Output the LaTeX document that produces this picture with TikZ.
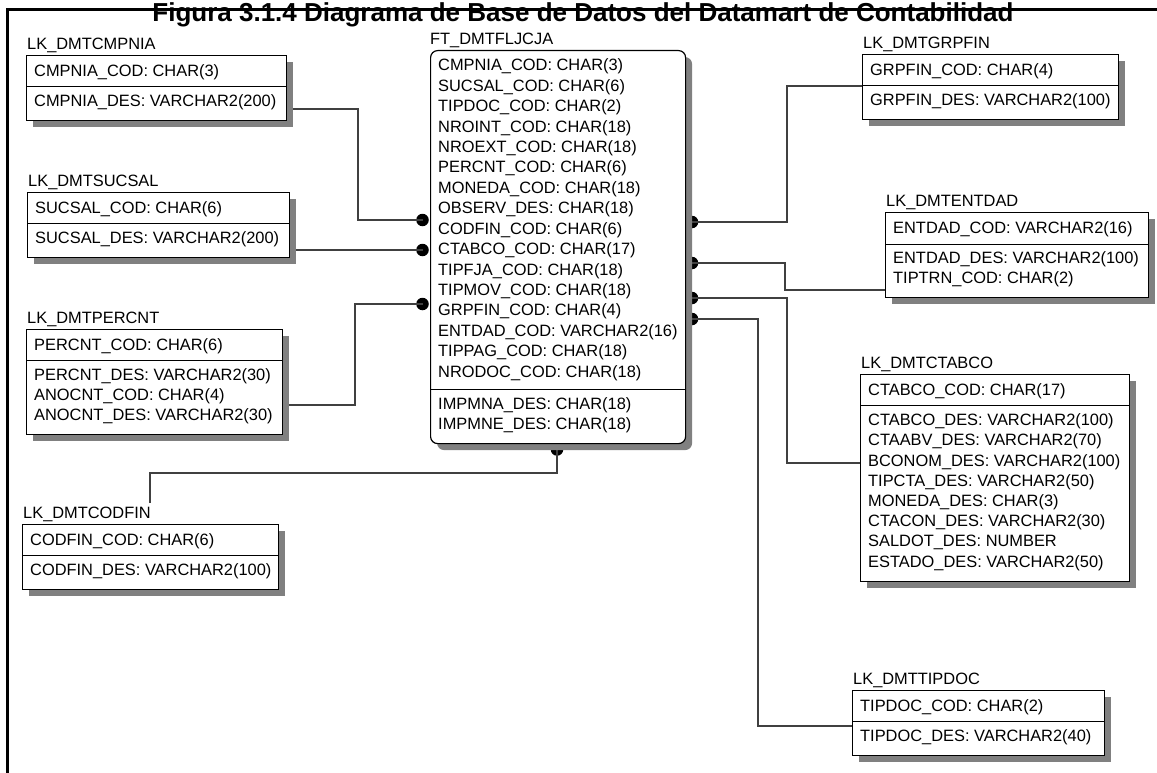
\documentclass[tikz,border=0pt]{standalone}
\usepackage{fontspec}
\setmainfont{Liberation Sans}
\usetikzlibrary{shadows,calc}
\pgfdeclarelayer{background}
\pgfsetlayers{background,main}

\newcommand\rowfont{\fontsize{16.4}{19}\selectfont}
\newcommand\titlefont{\fontsize{26}{30}\selectfont\bfseries}

\tikzset{
  tbl/.style={draw=black, line width=1.2pt, fill=white, inner sep=0pt, anchor=north west,
    drop shadow={shadow xshift=6.5pt, shadow yshift=-6.5pt, fill=black!50, opacity=1}},
  ftbl/.style={tbl, rounded corners=7pt},
  divider/.style={line width=1pt},
  rowt/.style={inner sep=0pt, anchor=base west, font=\rowfont},
  tname/.style={inner sep=0pt, anchor=base west, font=\rowfont},
  conn/.style={line width=1.1pt, draw=black!75},
  fkdot/.style={circle, fill=black, inner sep=0pt, minimum size=12.5pt},
  framel/.style={line width=3pt},
}

% entity box: name, left, top, right, divider, bottom, label
\newcommand\entity[7]{%
  \node[tbl, minimum width={(#4-#2)*1pt}, minimum height={(#6-#3)*1pt}] (#1) at (#2,#3) {};
  \draw[divider] (#1.west |- 0,#5) -- (#1.east |- 0,#5);
  \node[tname] (#1-name) at (#2+1,#3-5.5) {#7};
}
% column list: prefix, x, first baseline, step, entries
\newcommand\columns[5]{%
  \foreach \t [count=\i from 0] in {#5}
    \node[rowt] (#1-\i) at (#2,{#3+#4*\i}) {\t};
}

\begin{document}
\begin{tikzpicture}[x=1pt,y=-1pt]
\useasboundingbox (0,0) rectangle (1157,773);

% page frame and title
\draw[framel] (7.5,773) -- (7.5,9.5) -- (1157,9.5);
\node[font=\titlefont, inner sep=0pt, anchor=base] (title) at (583,21.5)
  {Figura 3.1.4 Diagrama de Base de Datos del Datamart de Contabilidad};

% ---- fact table ----
\node[ftbl, minimum width=255pt, minimum height=393pt] (ft) at (430,50) {};
\draw[divider] (ft.west |- 0,389) -- (ft.east |- 0,389);
\node[tname] (ft-name) at (430,45) {FT\_DMTFLJCJA};
\columns{ftk}{438}{71}{20.4}{CMPNIA\_COD: CHAR(3), SUCSAL\_COD: CHAR(6), TIPDOC\_COD: CHAR(2),
  NROINT\_COD: CHAR(18), NROEXT\_COD: CHAR(18), PERCNT\_COD: CHAR(6), MONEDA\_COD: CHAR(18),
  OBSERV\_DES: CHAR(18), CODFIN\_COD: CHAR(6), CTABCO\_COD: CHAR(17), TIPFJA\_COD: CHAR(18),
  TIPMOV\_COD: CHAR(18), GRPFIN\_COD: CHAR(4), ENTDAD\_COD: VARCHAR2(16), TIPPAG\_COD: CHAR(18),
  NRODOC\_COD: CHAR(18)}
\columns{fta}{438}{409}{20.4}{IMPMNA\_DES: CHAR(18), IMPMNE\_DES: CHAR(18)}

% ---- lookup tables, left ----
\entity{cmpnia}{26}{55}{286}{86.7}{120}{LK\_DMTCMPNIA}
\columns{cmpniak}{34}{76.7}{20}{CMPNIA\_COD: CHAR(3)}
\columns{cmpniaa}{34}{106.7}{20}{CMPNIA\_DES: VARCHAR2(200)}

\entity{sucsal}{27}{192}{289}{223}{257}{LK\_DMTSUCSAL}
\columns{sucsalk}{35}{213}{20}{SUCSAL\_COD: CHAR(6)}
\columns{sucsala}{35}{243.5}{20}{SUCSAL\_DES: VARCHAR2(200)}

\entity{percnt}{26}{329}{282}{360.5}{434}{LK\_DMTPERCNT}
\columns{percntk}{34}{350.7}{20}{PERCNT\_COD: CHAR(6)}
\columns{percnta}{34}{380.7}{20}{PERCNT\_DES: VARCHAR2(30), ANOCNT\_COD: CHAR(4), ANOCNT\_DES: VARCHAR2(30)}

\entity{codfin}{22}{524}{278}{555.5}{589}{LK\_DMTCODFIN}
\columns{codfink}{30}{545.7}{20}{CODFIN\_COD: CHAR(6)}
\columns{codfina}{30}{575.7}{20}{CODFIN\_DES: VARCHAR2(100)}

% ---- lookup tables, right ----
\entity{grpfin}{862}{54}{1118}{85.5}{119}{LK\_DMTGRPFIN}
\columns{grpfink}{870}{75.7}{20}{GRPFIN\_COD: CHAR(4)}
\columns{grpfina}{870}{105.7}{20}{GRPFIN\_DES: VARCHAR2(100)}

\entity{entdad}{885}{212}{1148}{244}{297}{LK\_DMTENTDAD}
\columns{entdadk}{893}{233.7}{20}{ENTDAD\_COD: VARCHAR2(16)}
\columns{entdada}{893}{263.7}{20}{ENTDAD\_DES: VARCHAR2(100), TIPTRN\_COD: CHAR(2)}

\entity{ctabco}{860}{374}{1129}{405.5}{581}{LK\_DMTCTABCO}
\columns{ctabcok}{868}{395.7}{20}{CTABCO\_COD: CHAR(17)}
\columns{ctabcoa}{868}{425.7}{20.2}{CTABCO\_DES: VARCHAR2(100), CTAABV\_DES: VARCHAR2(70),
  BCONOM\_DES: VARCHAR2(100), TIPCTA\_DES: VARCHAR2(50), MONEDA\_DES: CHAR(3),
  CTACON\_DES: VARCHAR2(30), SALDOT\_DES: NUMBER, ESTADO\_DES: VARCHAR2(50)}

\entity{tipdoc}{852}{690}{1104}{721.7}{755}{LK\_DMTTIPDOC}
\columns{tipdock}{860}{711.7}{20}{TIPDOC\_COD: CHAR(2)}
\columns{tipdoca}{860}{741.7}{20}{TIPDOC\_DES: VARCHAR2(40)}

% ---- relationships (under the tables) ----
\begin{pgfonlayer}{background}
  \fill[white] (0,0) rectangle (1157,773);

  \node[fkdot] (d1) at (422.5,220) {};
  \node[fkdot] (d2) at (422.5,250) {};
  \node[fkdot] (d3) at (422.5,304) {};
  \node[fkdot] (d5) at (692,222) {};
  \node[fkdot] (d6) at (692,263) {};
  \node[fkdot] (d7) at (692,298) {};
  \node[fkdot] (d8) at (692,319) {};
  \node[fkdot] (d9) at (557,449.5) {};

  \coordinate (c1) at (358,109);
  \coordinate (c3) at (355,405);
  \coordinate (c4s) at (150,503);
  \coordinate (c4) at (150,473);
  \coordinate (c5) at (787,86);
  \coordinate (c6) at (785,290);
  \coordinate (c7) at (787,463);
  \coordinate (c8) at (758,726);

  \draw[conn] (cmpnia.east |- c1) -- (c1) |- (d1.center);
  \draw[conn] (sucsal.east |- d2) -- (d2.center);
  \draw[conn] (percnt.east |- c3) -- (c3) |- (d3.center);
  \draw[conn] (c4s) -- (c4) -| (d9.center);
  \draw[conn] (d5.center) -| (c5) -- (grpfin.west |- c5);
  \draw[conn] (d6.center) -| (c6) -- (entdad.west |- c6);
  \draw[conn] (d7.center) -| (c7) -- (ctabco.west |- c7);
  \draw[conn] (d8.center) -| (c8) -- (tipdoc.west |- c8);
\end{pgfonlayer}
\end{tikzpicture}
\end{document}
